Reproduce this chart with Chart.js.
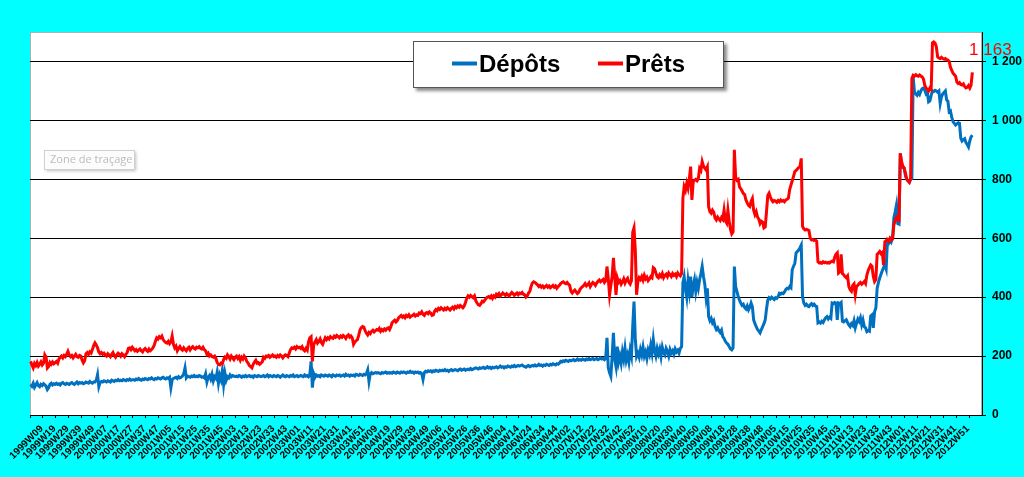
<!DOCTYPE html>
<html lang="fr">
<head>
<meta charset="UTF-8" />
<title>Dépôts et Prêts</title>
<style>
  html, body { margin: 0; padding: 0; background: #00ffff; overflow: hidden; }
  #chart-container { width: 1024px; height: 477px; }
</style>
<script src="https://cdn.jsdelivr.net/npm/chart.js"></script>
</head>
<body>
<div id="chart-container"><canvas id="weeklyChart" width="1024" height="477"></canvas></div>
<script>
  // first labelled week and how many weeks carry a label
  const firstYear = 1999;
  const firstWeek = 9;
  const labelledWeeks = 722;
  const totalSlots = 740;

  // weekly values, one line = 10 weeks
  const depots = [
    104,98,108,94,102,110,100,96,104,100,
    106,102,98,86,92,104,108,102,106,104,
    108,104,106,102,108,110,106,104,108,106,
    104,108,110,106,104,108,112,106,110,108,
    110,106,108,112,110,108,114,110,108,112,
    112,118,137,96,110,114,112,116,114,112,
    116,114,112,118,116,114,118,116,120,116,
    118,116,120,118,116,120,118,122,118,120,
    120,118,122,120,124,120,118,122,120,124,
    122,120,124,122,126,122,120,124,122,126,
    124,122,126,128,124,122,126,124,128,93,
    120,124,126,128,124,130,126,128,132,140,
    160,126,132,130,128,132,130,134,130,132,
    130,134,132,128,130,126,140,112,128,134,
    122,138,116,130,124,146,108,134,120,150,
    104,142,118,130,126,136,130,134,132,130,
    132,130,134,132,128,132,130,134,130,132,
    134,130,132,128,134,132,130,134,132,130,
    132,134,130,132,136,130,134,132,130,134,
    132,130,134,132,128,132,136,132,130,134,
    132,130,134,132,136,130,132,134,130,132,
    134,132,130,136,132,134,130,136,182,93,
    140,128,136,132,134,130,136,134,132,136,
    134,132,136,134,130,136,134,132,136,134,
    136,132,134,136,132,138,134,136,132,136,
    134,136,132,138,136,134,138,136,134,138,
    136,140,153,114,140,144,140,142,144,142,
    144,142,140,144,142,144,146,142,144,142,
    144,142,146,144,142,146,144,142,146,144,
    146,144,142,146,144,148,144,146,142,146,
    144,146,142,144,140,120,144,148,146,150,
    148,150,146,150,148,152,150,148,152,150,
    152,150,154,150,152,148,152,154,150,152,
    154,152,150,154,156,152,154,156,152,154,
    156,154,158,154,156,158,160,158,156,160,
    158,160,162,158,160,164,160,162,158,162,
    160,162,164,160,162,166,162,164,160,164,
    162,166,164,162,166,164,168,164,166,168,
    166,168,170,166,164,162,166,168,164,166,
    168,166,170,166,168,172,168,170,166,170,
    168,172,170,168,172,170,174,172,170,174,
    172,176,182,180,184,182,186,184,182,186,
    184,186,188,184,186,190,186,188,186,190,
    188,186,190,188,192,188,190,192,188,190,
    192,188,190,194,190,192,188,192,262,160,
    143,131,200,279,190,165,232,180,200,176,
    214,190,226,186,204,180,220,200,300,385,
    260,199,210,196,222,204,230,200,214,192,
    220,206,236,210,255,218,200,226,208,224,
    198,230,212,204,226,216,200,222,210,218,
    206,224,214,220,210,226,232,448,470,430,
    400,455,420,470,400,440,460,420,450,430,
    460,480,504,470,445,400,430,334,320,328,
    313,320,300,290,296,286,280,288,266,260,
    250,244,240,232,224,221,228,504,436,420,
    402,390,380,372,376,365,360,370,357,366,
    380,368,323,310,300,290,285,279,290,300,
    310,323,360,390,398,394,400,396,392,398,
    396,402,413,410,414,412,418,426,430,428,
    436,432,493,505,515,550,555,560,568,577,
    402,380,372,376,370,368,374,378,372,376,
    370,368,313,316,312,318,314,323,330,334,
    326,332,328,380,378,382,380,323,380,378,
    382,318,316,320,323,314,306,300,310,304,
    320,296,312,326,318,330,306,322,300,296,
    283,286,284,336,340,296,350,363,430,450,
    465,478,490,500,510,496,590,584,596,588,
    600,670,690,713,650,648,888,848,840,838,
    812,800,795,790,800,803,1148,1097,1090,1085,
    1095,1088,1100,1108,1110,1102,1090,1095,1063,1066,
    1085,1100,1098,1102,1100,1096,1100,1057,1080,1090,
    1095,1100,1070,1065,1029,1032,1010,995,990,984,
    988,992,990,940,930,935,938,925,918,910,
    930,944,950
  ];

  const prets = [
    182,170,160,175,168,178,166,172,180,170,
    176,204,196,160,165,178,172,180,174,178,
    182,176,190,196,200,194,202,198,206,216,
    204,198,202,194,200,206,198,196,202,200,
    186,177,184,208,212,206,214,210,222,236,
    245,238,228,214,208,212,206,210,204,200,
    208,204,198,206,212,202,196,204,210,206,
    200,208,204,198,206,212,226,228,222,230,
    224,218,222,216,220,224,218,214,222,226,
    220,216,224,218,222,228,236,250,262,258,
    266,262,268,256,250,246,244,250,242,248,
    268,240,228,234,218,226,232,224,220,228,
    222,218,226,230,221,228,232,226,224,230,
    228,232,226,224,230,222,218,206,210,200,
    204,198,196,200,192,178,172,170,176,174,
    188,196,192,204,198,190,200,194,188,196,
    200,192,198,186,196,190,200,194,182,176,
    168,164,160,172,180,186,176,178,172,176,
    180,196,192,200,198,202,196,200,204,198,
    200,196,202,198,204,200,194,200,204,202,
    198,210,222,228,226,230,224,232,228,230,
    226,232,222,218,226,220,248,262,266,182,
    238,248,256,244,250,258,246,240,252,262,
    256,262,258,266,262,260,268,264,270,266,
    262,268,264,270,266,260,268,272,264,268,
    262,240,248,252,256,270,288,296,300,298,
    286,278,272,280,276,284,288,282,286,290,
    288,294,284,290,286,292,288,294,296,290,
    300,314,318,322,316,320,330,334,338,332,
    336,330,338,334,340,332,336,338,342,336,
    340,338,346,344,350,342,338,346,348,344,
    350,346,338,340,352,358,354,362,358,364,
    360,356,362,358,364,360,356,362,366,360,
    368,364,370,366,372,368,364,370,382,396,
    404,400,406,402,398,404,388,380,374,372,
    378,386,384,390,396,400,402,398,404,396,
    404,400,410,406,412,404,408,414,410,406,
    412,408,404,410,416,412,406,410,414,408,
    414,412,416,410,408,400,404,414,420,436,
    448,452,450,446,442,436,440,434,438,432,
    436,440,434,438,432,436,440,434,438,430,
    436,440,446,450,452,448,446,450,444,440,
    420,414,420,424,418,412,416,426,432,436,
    440,446,438,442,448,436,444,450,446,440,
    448,454,458,452,456,460,450,456,504,462,
    408,440,470,533,470,408,465,450,456,444,
    452,462,448,458,464,450,444,456,620,635,
    560,408,452,466,460,470,458,474,462,468,
    456,462,470,466,500,496,482,470,466,476,
    470,480,466,474,478,470,482,476,470,480,
    474,478,470,482,476,472,480,735,775,763,
    787,770,800,843,730,790,797,800,795,802,
    837,830,860,845,838,832,842,707,690,685,
    695,688,668,662,672,666,660,670,664,695,
    660,652,695,658,630,615,622,900,808,797,
    800,775,768,760,752,748,730,720,712,708,
    725,735,695,680,690,672,665,650,658,655,
    635,638,690,745,753,740,730,724,728,726,
    722,728,724,730,726,728,724,730,732,736,
    765,780,795,810,826,830,835,840,843,871,
    640,632,628,630,628,626,600,594,596,592,
    594,590,520,516,518,515,520,517,519,516,
    518,516,520,522,520,535,545,550,482,486,
    545,480,476,470,466,472,436,425,420,440,
    445,408,436,440,446,450,444,448,453,446,
    475,490,500,509,505,470,453,460,545,550,
    555,548,552,509,588,592,596,590,600,594,
    598,645,660,670,662,660,888,860,845,838,
    820,800,795,790,803,1143,1153,1150,1155,1152,
    1150,1154,1150,1148,1140,1120,1110,1105,1100,1110,
    1105,1263,1266,1262,1250,1216,1212,1210,1214,1210,
    1208,1210,1206,1205,1200,1180,1170,1160,1155,1150,
    1130,1125,1128,1122,1120,1124,1115,1110,1112,1118,
    1110,1120,1163
  ];

  const seriesNames = ["Dépôts", "Prêts"];
  const seriesColors = ["#0070C0", "#FF0000"];

  function weeksInYear(y) {
    const jan1 = new Date(Date.UTC(y, 0, 1)).getUTCDay();
    const leap = (y % 4 === 0 && y % 100 !== 0) || y % 400 === 0;
    return (jan1 === 4 || (leap && jan1 === 3)) ? 53 : 52;
  }

  function buildWeekLabels() {
    const out = [];
    let y = firstYear, w = firstWeek;
    for (let i = 0; i < totalSlots; i++) {
      if (i < labelledWeeks) {
        out.push(y + "W" + String(w).padStart(2, "0"));
        w++;
        if (w > weeksInYear(y)) { w = 1; y++; }
      } else {
        out.push("");
      }
    }
    return out;
  }

  function formatNumber(n) {
    return String(Math.round(n)).replace(/\B(?=(\d{3})+(?!\d))/g, " ");
  }

  const weekLabels = buildWeekLabels();
  const sansFont = "'Liberation Sans', Arial, sans-serif";

  const decorations = {
    id: "decorations",
    beforeDraw(chart) {
      const { ctx, chartArea: a } = chart;
      ctx.save();
      ctx.fillStyle = "#00ffff";
      ctx.fillRect(0, 0, chart.width, chart.height);
      ctx.fillStyle = "#ffffff";
      ctx.fillRect(a.left, a.top, a.right - a.left, a.bottom - a.top);
      ctx.strokeStyle = "#b0b0b0";
      ctx.lineWidth = 1;
      ctx.strokeRect(a.left + 0.5, a.top + 0.5, a.right - a.left - 1, a.bottom - a.top);
      ctx.restore();
    },
    afterDraw(chart) {
      const { ctx } = chart;
      ctx.save();

      // "Zone de traçage" hint box
      ctx.shadowColor = "rgba(0,0,0,0.25)";
      ctx.shadowBlur = 3;
      ctx.shadowOffsetX = 2;
      ctx.shadowOffsetY = 2;
      ctx.fillStyle = "#fcfcfc";
      ctx.fillRect(44, 150, 90, 19);
      ctx.shadowColor = "transparent";
      ctx.strokeStyle = "#d0d0d0";
      ctx.strokeRect(44.5, 150.5, 90, 19);
      ctx.fillStyle = "#bcbcbc";
      ctx.font = "11px 'Open Sans', sans-serif";
      ctx.textBaseline = "alphabetic";
      ctx.textAlign = "left";
      ctx.fillText("Zone de traçage", 50, 163);

      // legend box
      ctx.shadowColor = "rgba(0,0,0,0.45)";
      ctx.shadowBlur = 3;
      ctx.shadowOffsetX = 3;
      ctx.shadowOffsetY = 3;
      ctx.fillStyle = "#ffffff";
      ctx.fillRect(413, 41, 311, 47);
      ctx.shadowColor = "transparent";
      ctx.strokeStyle = "#555555";
      ctx.lineWidth = 1;
      ctx.strokeRect(413.5, 41.5, 310, 46);

      const itemX = [452, 598];
      ctx.font = "bold 24px " + sansFont;
      chart.data.datasets.forEach((ds, k) => {
        ctx.strokeStyle = ds.borderColor;
        ctx.lineWidth = 4;
        ctx.beginPath();
        ctx.moveTo(itemX[k], 63.5);
        ctx.lineTo(itemX[k] + 25, 63.5);
        ctx.stroke();
        ctx.fillStyle = "#000";
        ctx.fillText(ds.label, itemX[k] + 27, 72);
      });

      // last value of Prêts
      const meta = chart.getDatasetMeta(1);
      const last = meta.data[meta.data.length - 1];
      ctx.fillStyle = "#FF0000";
      ctx.font = "17px " + sansFont;
      ctx.textAlign = "center";
      ctx.fillText(formatNumber(prets[prets.length - 1]), last.x + 18, last.y - 17);
      ctx.restore();
    }
  };

  const ctx = document.getElementById("weeklyChart").getContext("2d");
  new Chart(ctx, {
    type: "line",
    data: {
      labels: weekLabels,
      datasets: [
        {
          label: seriesNames[0],
          data: depots,
          borderColor: seriesColors[0],
          borderWidth: 3,
          pointRadius: 0,
          tension: 0,
          order: 2,
        },
        {
          label: seriesNames[1],
          data: prets,
          borderColor: seriesColors[1],
          borderWidth: 3,
          pointRadius: 0,
          tension: 0,
          order: 1,
        },
      ],
    },
    options: {
      responsive: false,
      animation: false,
      events: [],
      devicePixelRatio: 1,
      layout: { padding: { left: 30, top: 32, right: 0, bottom: 0 } },
      scales: {
        x: {
          offset: true,
          grid: {
            offset: true,
            drawOnChartArea: false,
            drawTicks: true,
            tickLength: 3,
            color: (c) => (c.index % 10 === 0 ? "#000" : "rgba(0,0,0,0)"),
          },
          border: { display: true, color: "#000", width: 1 },
          ticks: {
            autoSkip: false,
            minRotation: 45,
            maxRotation: 45,
            padding: 5,
            labelOffset: 11,
            color: "#000",
            font: { family: sansFont, size: 10, weight: "bold" },
            callback: function (value, index) {
              return index % 10 === 0 ? weekLabels[index] : "";
            },
          },
          afterFit(scale) {
            scale.height = 62;
            scale.paddingLeft = 0;
            scale.paddingRight = 0;
          },
        },
        y: {
          position: "right",
          min: 0,
          max: 1300,
          grid: { color: "#000", lineWidth: 1, tickLength: 4 },
          border: { display: true, color: "#000", width: 1 },
          ticks: {
            stepSize: 200,
            includeBounds: false,
            padding: 6,
            color: "#000",
            font: { family: sansFont, size: 12, weight: "bold" },
            callback: function (value) {
              return formatNumber(value);
            },
          },
          afterFit(scale) {
            scale.width = 42;
            scale.paddingTop = 0;
            scale.paddingBottom = 0;
          },
        },
      },
      plugins: {
        legend: { display: false },
        tooltip: { enabled: false },
      },
    },
    plugins: [decorations],
  });
</script>
</body>
</html>
